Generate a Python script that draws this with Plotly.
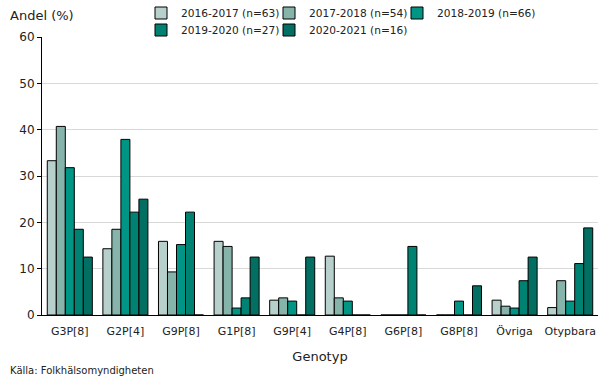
import plotly.graph_objects as go

categories = ["G3P[8]", "G2P[4]", "G9P[8]", "G1P[8]", "G9P[4]", "G4P[8]", "G6P[8]", "G8P[8]", "Övriga", "Otypbara"]
series_names = ["2016-2017 (n=63)", "2017-2018 (n=54)", "2018-2019 (n=66)", "2019-2020 (n=27)", "2020-2021 (n=16)"]
s2016 = [33.3, 14.3, 15.9, 15.9, 3.2, 12.7, 0, 0, 3.2, 1.6]
s2017 = [40.7, 18.5, 9.3, 14.8, 3.7, 3.7, 0, 0, 1.9, 7.4]
s2018 = [31.8, 37.9, 15.2, 1.5, 3.0, 3.0, 0, 3.0, 1.5, 3.0]
s2019 = [18.5, 22.2, 22.2, 3.7, 0, 0, 14.8, 0, 7.4, 11.1]
s2020 = [12.5, 25.0, 0, 12.5, 12.5, 0, 0, 6.3, 12.5, 18.8]
y_ticks = [0, 10, 20, 30, 40, 50, 60]

colors = ["#b8d0cb", "#86b4aa", "#009584", "#008272", "#036f63"]
values = [s2016, s2017, s2018, s2019, s2020]

FONT = "DejaVu Sans"
W, H = 605, 379
# legend placement (text start x, row center y) in pixels
legend_pos = [(181, 13), (309, 13), (437, 13), (181, 30), (309, 30)]
legend_ids = ["legend", "legend2", "legend3", "legend4", "legend5"]

fig = go.Figure()
for i, (name, vals, col) in enumerate(zip(series_names, values, colors)):
    fig.add_trace(go.Bar(
        x=categories, y=vals, name=name,
        marker=dict(color=col, line=dict(color="black", width=1)),
        legend=legend_ids[i], showlegend=True,
    ))

legends = {}
for lid, (tx, ty) in zip(legend_ids, legend_pos):
    legends[lid] = dict(orientation="h", xanchor="left", yanchor="middle",
                        xref="container", yref="container",
                        x=(tx - 40) / W, y=1 - ty / H,
                        font=dict(family=FONT, size=10.6, color="#222"),
                        bgcolor="rgba(0,0,0,0)", itemwidth=30, visible=True)

fig.update_layout(
    width=W, height=H, showlegend=True,
    margin=dict(l=42, r=7, t=37, b=64, autoexpand=False),
    paper_bgcolor="white", plot_bgcolor="white",
    barmode="group", bargap=0.19, bargroupgap=0,
    font=dict(family=FONT, size=11, color="#222"),
    xaxis=dict(
        automargin=False,
        showline=True, linecolor="black", linewidth=1,
        ticks="", tickfont=dict(family=FONT, size=11), ticklabelstandoff=6,
        title=dict(text="Genotyp", font=dict(family=FONT, size=13), standoff=14),
    ),
    yaxis=dict(
        automargin=False,
        range=[0, 60], tickvals=y_ticks, showline=True, linecolor="black", linewidth=1,
        ticks="outside", ticklen=4, tickcolor="black",
        showgrid=True, gridcolor="#d9d9d9", gridwidth=1,
        tickfont=dict(family=FONT, size=12), zeroline=False,
    ),
    annotations=[
        dict(text="Andel (%)", xref="paper", yref="paper", x=-0.062, y=1 + 22 / 278,
             xanchor="left", yanchor="middle", showarrow=False,
             font=dict(family=FONT, size=13, color="#222")),
        dict(text="Källa: Folkhälsomyndigheten", xref="paper", yref="paper",
             x=-0.062, y=-55 / 278, xanchor="left", yanchor="middle", showarrow=False,
             font=dict(family=FONT, size=10, color="#222")),
    ],
)
fig.update_layout(**legends)
fig.write_html("out.html", config={"displayModeBar": False},
               post_script="document.body.style.margin='0px';document.body.style.overflow='hidden';")
